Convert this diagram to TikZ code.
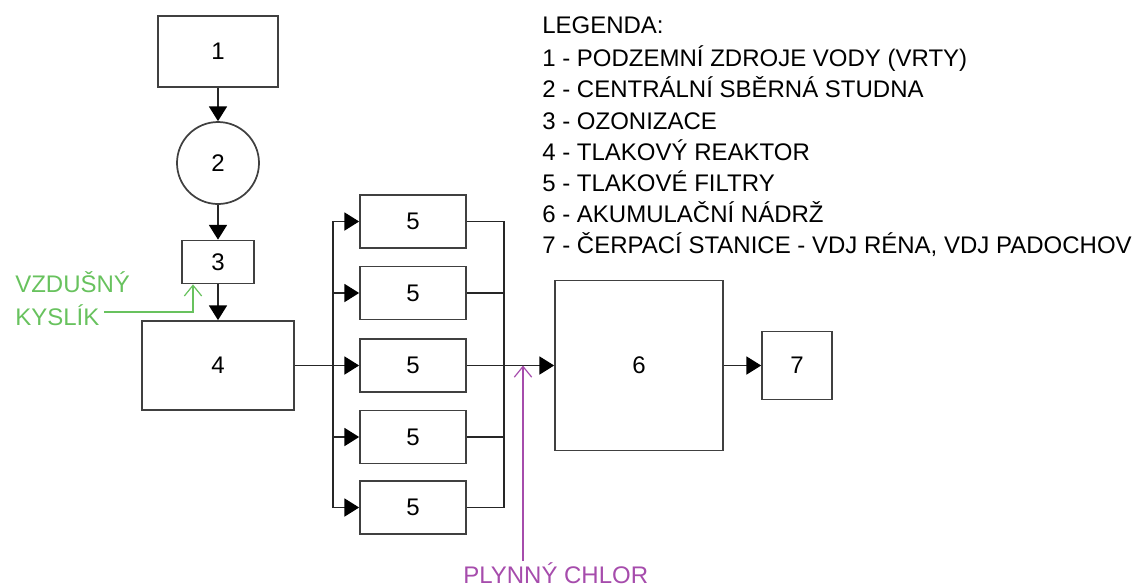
\documentclass[tikz,border=0pt]{standalone}
\usepackage{fontspec}
\setmainfont{Liberation Sans}
\usetikzlibrary{arrows.meta}
\definecolor{airgreen}{RGB}{104,194,94}
\definecolor{chlorpurple}{RGB}{166,76,172}
\begin{document}
\begin{tikzpicture}[
	x=0.75pt, y=-0.75pt,
	every node/.style = {font=\fontsize{18}{21}\selectfont},
	b/.style = {rectangle, draw=black!75, line width=1.3pt, inner sep=0pt},
	c/.style = {circle, draw=black!75, line width=1.3pt, inner sep=0pt, minimum size=61.5pt},
	f/.style = {b, minimum width=79.5pt, minimum height=39.75pt},
	r/.style = {-{Triangle[length=11pt, width=13.5pt, color=black]}, line width=1pt, draw=black!85},
	l/.style = {line width=1pt, draw=black!85},
	g/.style = {-{Straight Barb[length=8pt, width=13pt]}, line width=0.9pt},
	txt/.style = {anchor=base west, inner sep=0pt}
	]
	\useasboundingbox (0, 0) rectangle (1137, 587);
	
	% ===== ===== ===== ===== =====
	
	% Nodes
	\node[b, minimum width=90pt, minimum height=53.25pt]	(n1)	at	(218, 51.5)	{1};
	\node[c]	(n2)	at	(218, 163)	{2};
	\node[b, minimum width=54pt, minimum height=32.25pt]	(n3)	at	(218, 262)	{3};
	\node[b, minimum width=114pt, minimum height=66.75pt]	(n4)	at	(218, 365.5)	{4};
	
	\node[f]	(f1)	at	(413, 221.5)	{5};
	\node[f]	(f2)	at	(413, 293)	{5};
	\node[f]	(f3)	at	(413, 365.5)	{5};
	\node[f]	(f4)	at	(413, 437)	{5};
	\node[f]	(f5)	at	(413, 507.5)	{5};
	
	\node[b, minimum width=126pt, minimum height=127.5pt]	(n6)	at	(639, 365.5)	{6};
	\node[b, minimum width=52.5pt, minimum height=51pt]	(n7)	at	(797, 365.5)	{7};
	
	\coordinate	(split)	at	(333, 365.5);
	\coordinate	(merge)	at	(504, 365.5);
	
	% Lines
	\draw[r]	(n1.south)	--	(n2.north);
	\draw[r]	(n2.south)	--	(n3.north);
	\draw[r]	(n3.south)	--	(n4.north);
	
	\draw[r]	(n4.east)	--	(f3.west);
	\draw[r]	(split)	|-	(f1.west);
	\draw[r]	(split)	|-	(f2.west);
	\draw[r]	(split)	|-	(f4.west);
	\draw[r]	(split)	|-	(f5.west);
	
	\draw[l]	(f1.east)	-|	(merge);
	\draw[l]	(f2.east)	-|	(merge);
	\draw[l]	(f4.east)	-|	(merge);
	\draw[l]	(f5.east)	-|	(merge);
	\draw[r]	(f3.east)	--	(n6.west);
	
	\draw[r]	(n6.east)	--	(n7.west);
	
	% ===== ===== ===== ===== =====
	
	% Dosing
	\node[txt, text=airgreen]	(air1)	at	(15, 292)	{VZDUŠNÝ};
	\node[txt, text=airgreen]	(air2)	at	(15, 325)	{KYSLÍK};
	\coordinate	(airin)	at	(104, 312);
	\draw[g, airgreen]	(airin)	-|	([xshift=-18.75pt]n3.south);
	
	\node[txt, text=chlorpurple]	(cl)	at	(463, 583)	{PLYNNÝ CHLOR};
	\coordinate	(clin)	at	(523, 561);
	\draw[g, chlorpurple]	(clin)	--	(clin |- f3.east);
	
	% ===== ===== ===== ===== =====
	
	% Legend
	\node[txt]	(leg0)	at	(542, 33)	{LEGENDA:};
	\node[txt]	(leg1)	at	(542, 66)	{1 - PODZEMNÍ ZDROJE VODY (VRTY)};
	\node[txt]	(leg2)	at	(542, 97)	{2 - CENTRÁLNÍ SBĚRNÁ STUDNA};
	\node[txt]	(leg3)	at	(542, 129)	{3 - OZONIZACE};
	\node[txt]	(leg4)	at	(542, 160)	{4 - TLAKOVÝ REAKTOR};
	\node[txt]	(leg5)	at	(542, 191)	{5 - TLAKOVÉ FILTRY};
	\node[txt]	(leg6)	at	(542, 222)	{6 - AKUMULAČNÍ NÁDRŽ};
	\node[txt]	(leg7)	at	(542, 253)	{7 - ČERPACÍ STANICE - VDJ RÉNA, VDJ PADOCHOV};
	
\end{tikzpicture}
\end{document}
